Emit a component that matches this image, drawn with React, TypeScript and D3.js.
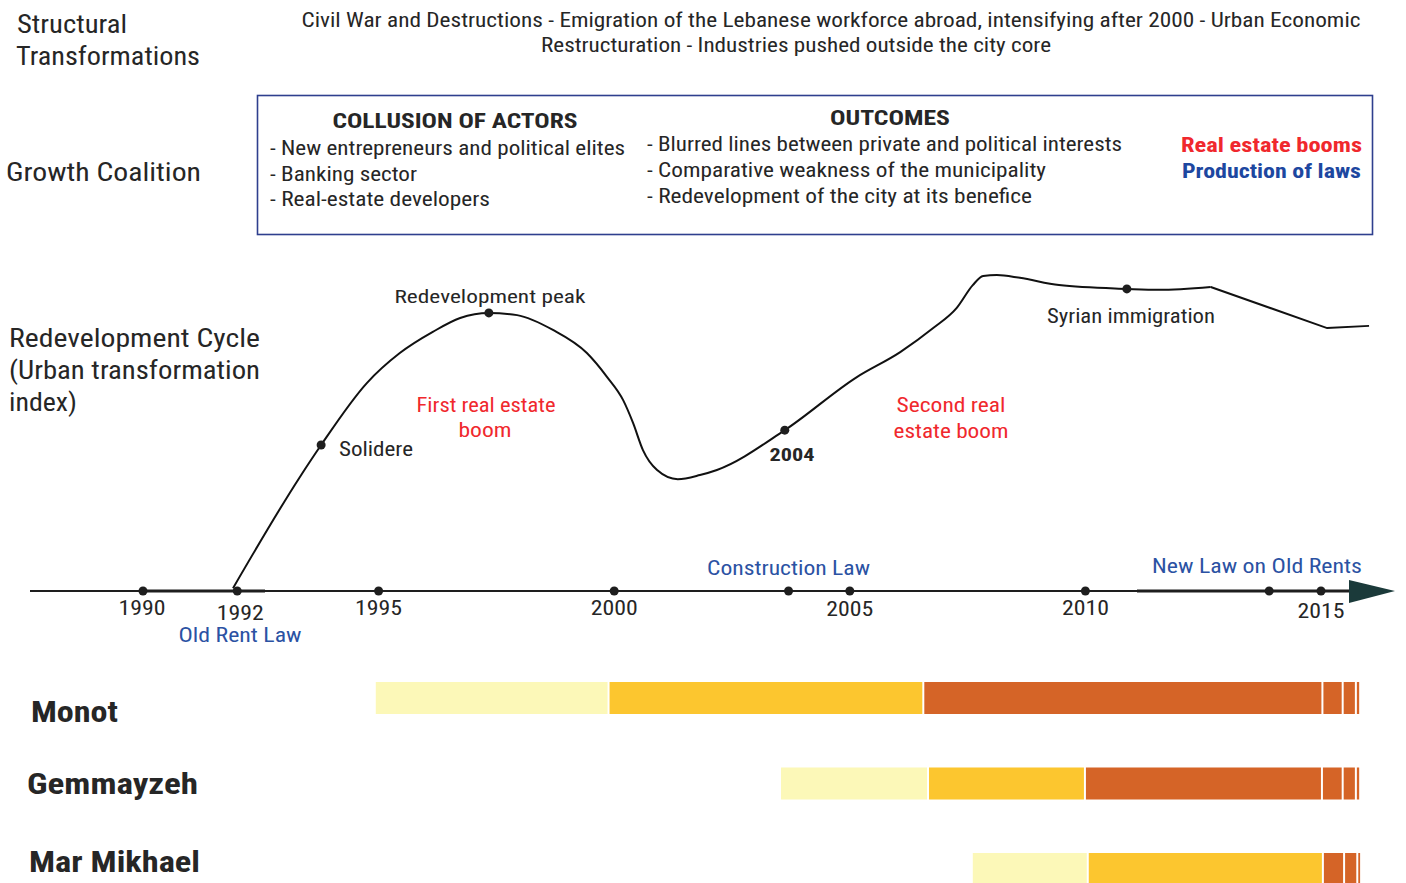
import React from 'react';
import * as d3 from 'd3';

const W = 1406;
const H = 883;

// ---- data ----
const axisTickYears = [1990, 1992, 1995, 2000, 2005, 2010, 2015];
const axisDotYears = [1990, 1992, 1995, 2000, 2003.7, 2005, 2010, 2013.9, 2015];

const curveYears = [1991.91, 1993.33, 1993.78, 1994.75, 1995.45, 1996.15, 1996.73, 1997.34, 1997.94, 1998.7, 1999.42, 1999.85, 2000.19, 2000.4, 2000.61, 2000.91, 2001.35, 2001.82, 2002.18, 2003.62, 2005.15, 2006.07, 2006.77, 2007.27, 2007.61, 2007.83, 2008.12, 2008.61, 2009.44, 2010.88, 2011.56, 2012.66];
const curveValues = [0.9, 36.1, 46.2, 65.8, 75.3, 82.0, 86.4, 88.0, 87.3, 82.6, 75.3, 67.7, 60.4, 53.2, 44.6, 38.3, 35.4, 36.7, 38.3, 50.9, 67.7, 75.6, 83.2, 89.6, 96.8, 99.7, 100, 99.1, 96.8, 95.6, 95.3, 96.2];
const tailYears = [2012.66, 2015.13, 2016.02];
const tailValues = [96.2, 83.2, 83.9];
const curveDotIdx = [2, 7, 19, 29];

const neighbourhoods = ['Monot', 'Gemmayzeh', 'Mar Mikhael'];
const stageColors = ['#fcf8b8', '#fcc62f', '#d56427'];
const monotBreaks = [1994.94, 1999.88, 2006.56, 2015.03, 2015.46, 2015.74, 2015.81];
const monotStages = [0, 1, 2, 2, 2, 2];
const gemmBreaks = [2003.54, 2006.66, 2009.99, 2015.02, 2015.46, 2015.74, 2015.81];
const gemmStages = [0, 1, 2, 2, 2, 2];
const marBreaks = [2007.61, 2010.05, 2015.04, 2015.49, 2015.77, 2015.83];
const marStages = [0, 1, 2, 2, 2];
const barBreaks = [monotBreaks, gemmBreaks, marBreaks];
const barStages = [monotStages, gemmStages, marStages];

const actors = ['- New entrepreneurs and political elites', '- Banking sector', '- Real-estate developers'];
const outcomes = ['- Blurred lines between private and political interests', '- Comparative weakness of the municipality', '- Redevelopment of the city at its benefice'];

const FONT = "'Liberation Sans Narrow', 'Roboto Condensed', 'DejaVu Sans Condensed', Roboto, sans-serif";
const DARK = '#262626';
const RED = '#f0282d';
const BLUE = '#2b52a3';

type TP = { x: number; y: number; w: number; size: number; anchor?: string; weight?: string | number; fill?: string; children: string };
const T = ({ x, y, w, size, anchor = 'start', weight = 400, fill = DARK, children }: TP) => (
  <text x={x} y={y} fontSize={size} fontWeight={weight} fill={fill} textAnchor={anchor}
    dominantBaseline="central" textLength={w} lengthAdjust="spacingAndGlyphs" fontFamily={FONT}>
    {children}
  </text>
);

export default function App() {
  const x = d3.scaleLinear().domain([1990, 2015]).range([143, 1321]);
  const y = d3.scaleLinear().domain([0, 100]).range([591, 275]);
  const axisY = y(0);

  const smooth = d3.line<number>()
    .x((_, i) => x(curveYears[i]))
    .y((v) => y(v))
    .curve(d3.curveMonotoneX);
  const straight = d3.line<number>()
    .x((_, i) => x(tailYears[i]))
    .y((v) => y(v));

  const rowY = d3.scalePoint<string>().domain(neighbourhoods).range([682, 853]);
  const barH = 32;
  const labelDy = [14, 0, -7];
  const labelW = [87, 171, 171];
  const labelX = [31, 27, 29];

  const tickLabelDy = [17, 22, 17, 17, 18, 17, 20];

  return (
    <svg width={W} height={H} style={{ position: 'absolute', left: 0, top: 0, background: '#fff' }}>
      <rect width={W} height={H} fill="#fff" />

      {/* Structural transformations */}
      <T x={17} y={24} w={110} size={25}>Structural</T>
      <T x={16} y={56} w={184} size={25}>Transformations</T>
      <T x={831} y={20} w={1059} size={20} anchor="middle">Civil War and Destructions - Emigration of the Lebanese workforce abroad, intensifying after 2000 - Urban Economic</T>
      <T x={796} y={45} w={510} size={20} anchor="middle">Restructuration - Industries pushed outside the city core</T>

      {/* Growth coalition */}
      <T x={6} y={172} w={195} size={25}>Growth Coalition</T>
      <rect x={257.5} y={95.5} width={1115} height={139} fill="none" stroke="#2e3f8e" strokeWidth={1.6} />
      <T x={455} y={121} w={245} size={21} anchor="middle" weight={700}>COLLUSION OF ACTORS</T>
      {actors.map((a, i) => (
        <T key={a} x={270} y={148 + i * 25.5} w={[355, 147, 220][i]} size={20}>{a}</T>
      ))}
      <T x={890} y={118} w={120} size={21} anchor="middle" weight={700}>OUTCOMES</T>
      {outcomes.map((a, i) => (
        <T key={a} x={647} y={144 + i * 26} w={[475, 399, 385][i]} size={20}>{a}</T>
      ))}
      <T x={1362} y={145} w={181} size={21} anchor="end" weight={700} fill={RED}>Real estate booms</T>
      <T x={1361} y={171} w={179} size={21} anchor="end" weight={700} fill="#1d47a0">Production of laws</T>

      {/* Redevelopment cycle */}
      <T x={9} y={338} w={251} size={25}>Redevelopment Cycle</T>
      <T x={9} y={370} w={251} size={25}>(Urban transformation</T>
      <T x={9} y={402} w={68} size={25}>index)</T>

      {/* axis */}
      <line x1={30} x2={1352} y1={axisY} y2={axisY} stroke="#1e1e1e" strokeWidth={2} />
      <line x1={x(1990)} x2={265} y1={axisY} y2={axisY} stroke="#1e1e1e" strokeWidth={3} />
      <line x1={1137} x2={1352} y1={axisY} y2={axisY} stroke="#1e1e1e" strokeWidth={3} />
      <polygon points={`1349,${axisY - 11} 1395,${axisY} 1349,${axisY + 12}`} fill="#1b3a3a" />
      {axisDotYears.map((yr) => (
        <circle key={yr} cx={x(yr)} cy={axisY} r={4.5} fill="#1e1e1e" />
      ))}
      {axisTickYears.map((yr, i) => (
        <T key={yr} x={x(yr) + (yr === 1992 ? 3 : yr === 1990 ? -1 : 0)} y={axisY + tickLabelDy[i]} w={47} size={21} anchor="middle">{String(yr)}</T>
      ))}
      <T x={240} y={635} w={123} size={20} anchor="middle" fill={BLUE}>Old Rent Law</T>
      <T x={x(2003.7)} y={568} w={163} size={20} anchor="middle" fill={BLUE}>Construction Law</T>
      <T x={1362} y={566} w={210} size={20} anchor="end" fill={BLUE}>New Law on Old Rents</T>

      {/* curve */}
      <path d={smooth(curveValues) || ''} fill="none" stroke="#111" strokeWidth={2} />
      <path d={straight(tailValues) || ''} fill="none" stroke="#111" strokeWidth={2} />
      {curveDotIdx.map((i) => (
        <circle key={i} cx={x(curveYears[i])} cy={y(curveValues[i])} r={4.5} fill="#1e1e1e" />
      ))}
      <T x={490} y={296} w={191} size={19} anchor="middle">Redevelopment peak</T>
      <T x={339} y={449} w={74} size={20}>Solidere</T>
      <T x={486} y={405} w={139} size={20} anchor="middle" fill={RED}>First real estate</T>
      <T x={485} y={430} w={53} size={20} anchor="middle" fill={RED}>boom</T>
      <T x={792} y={454} w={45} size={19} anchor="middle" weight={700}>2004</T>
      <T x={951} y={405} w={109} size={20} anchor="middle" fill={RED}>Second real</T>
      <T x={951} y={431} w={115} size={20} anchor="middle" fill={RED}>estate boom</T>
      <T x={1131} y={316} w={168} size={20} anchor="middle">Syrian immigration</T>

      {/* neighbourhood bars */}
      {neighbourhoods.map((n, r) => {
        const br = barBreaks[r];
        const st = barStages[r];
        const top = rowY(n) as number;
        return (
          <g key={n}>
            {st.map((s, i) => {
              const x0 = x(br[i]) + (i > 0 ? 1 : 0);
              const x1 = x(br[i + 1]) - (i < st.length - 1 ? 1 : 0);
              return <rect key={i} x={x0} y={top} width={Math.max(1, x1 - x0)} height={barH} fill={stageColors[s]} />;
            })}
            <T x={labelX[r]} y={top + barH / 2 + labelDy[r]} w={labelW[r]} size={29} weight={700}>{n}</T>
          </g>
        );
      })}
    </svg>
  );
}
